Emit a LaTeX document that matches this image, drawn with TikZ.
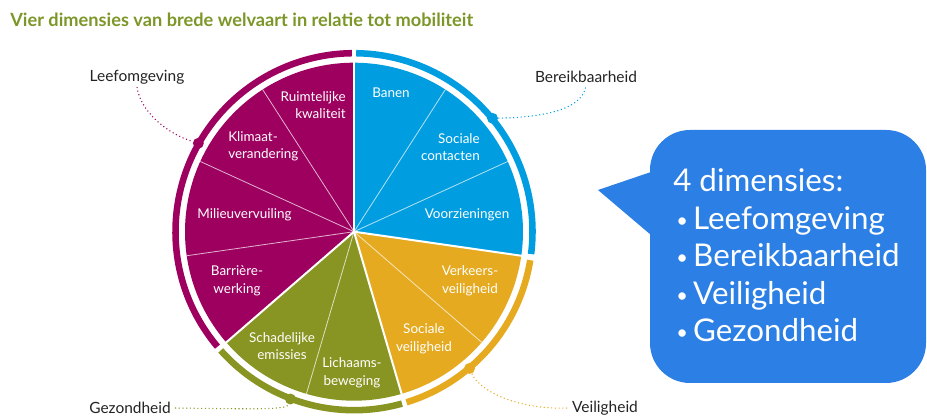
\documentclass[tikz,border=0pt]{standalone}
\usepackage{fontspec}
\setmainfont{Lato}
\definecolor{mag}{RGB}{158,0,96}
\definecolor{sky}{RGB}{0,158,224}
\definecolor{gold}{RGB}{229,170,32}
\definecolor{moss}{RGB}{137,149,34}
\definecolor{ttl}{RGB}{125,150,40}
\definecolor{bub}{RGB}{44,127,228}
\definecolor{lbl}{RGB}{35,35,35}
\newcommand{\smbul}{\raisebox{2.2pt}{\fontsize{15}{15}\selectfont•}\hspace{4pt}}
\begin{document}
\begin{tikzpicture}[x=0.75pt,y=0.75pt,
  seclbl/.style={text=white,font=\fontsize{10.1}{13.1}\selectfont,inner sep=0pt},
  outlbl/.style={text=lbl,font=\fontsize{11.6}{13}\selectfont,inner sep=0pt},
  ringarc/.style={line width=4.9pt},
  bound/.style={white,line width=1.5pt},
  thin/.style={white,opacity=.7,line width=0.6pt},
  ringdot/.style={circle,inner sep=0pt,minimum size=8.2pt},
  conn/.style={dotted,line width=0.8pt},
  bubtxt/.style={text=white,font=\fontsize{23.5}{28}\selectfont,inner sep=0pt,anchor=base west}]
\useasboundingbox (0,0) rectangle (927,416);
% title
\node[anchor=base west,inner sep=0pt,text=ttl,font=\fontsize{13.65}{16}\selectfont\bfseries] (title) at (10,389) {Vier dimensies van brede welvaart in relatie tot mobiliteit};
% pie
\begin{scope}[shift={(354,184.3)}]
  \fill[sky]  (0,0) -- (90:169) arc[start angle=90,end angle=-8.18,radius=169] -- cycle;
  \fill[gold] (0,0) -- (-8.18:169) arc[start angle=-8.18,end angle=-73.64,radius=169] -- cycle;
  \fill[moss] (0,0) -- (-73.64:169) arc[start angle=-73.64,end angle=-139.09,radius=169] -- cycle;
  \fill[mag]  (0,0) -- (220.91:169) arc[start angle=220.91,end angle=90,radius=169] -- cycle;
  \foreach \a in {57.27,24.55,-40.91,-106.36,122.73,155.45,188.18}
    \draw[thin] (0,0) -- (\a:169);
  \foreach \a in {90,-8.18,-73.64,-139.09}
    \draw[bound] (0,0) -- (\a:170);
  \draw[ringarc,sky]  (89.3:178.5) arc[start angle=89.3,end angle=-7.2,radius=178.5];
  \draw[ringarc,gold] (-9.2:178.5) arc[start angle=-9.2,end angle=-72.9,radius=178.5];
  \draw[ringarc,moss] (-74.4:178.5) arc[start angle=-74.4,end angle=-138.3,radius=178.5];
  \draw[ringarc,mag]  (220.1:178.5) arc[start angle=220.1,end angle=90.7,radius=178.5];
  \node[ringdot,fill=mag]  (dL) at (150.4:179) {};
  \node[ringdot,fill=sky]  (dB) at (39.3:179) {};
  \node[ringdot,fill=gold] (dV) at (-49.8:179) {};
  \node[ringdot,fill=moss] (dG) at (-110.8:179) {};
\end{scope}
% sector labels
\node[seclbl,anchor=east,align=right] (s1) at (346,311) {Ruimtelijke\\kwaliteit};
\node[seclbl,anchor=west,align=left] (s2) at (228,269.5) {Klimaat-\\verandering};
\node[seclbl] (s3) at (244.5,201) {Milieuvervuiling};
\node[seclbl,align=center] (s4) at (237,135) {Barrière-\\werking};
\node[seclbl,align=center] (s5) at (282,70) {Schadelijke\\emissies};
\node[seclbl,align=center] (s6) at (352,43) {Lichaams-\\beweging};
\node[seclbl,align=center] (s7) at (424,77) {Sociale\\veiligheid};
\node[seclbl,align=center] (s8) at (470,135) {Verkeers-\\veiligheid};
\node[seclbl] (s9) at (391,323) {Banen};
\node[seclbl,anchor=east,align=right] (s10) at (480,269) {Sociale\\contacten};
\node[seclbl] (s11) at (467,201) {Voorzieningen};
% outer labels
\node[outlbl] (lL) at (137,339) {Leefomgeving};
\node[outlbl] (lB) at (586,339) {Bereikbaarheid};
\node[outlbl] (lG) at (130,8) {Gezondheid};
\node[outlbl] (lV) at (605,8) {Veiligheid};
\draw[conn,mag]  ([yshift=-2pt]lL.south) .. controls (140,306) and (165,283) .. (dL);
\draw[conn,sky]  (dB) .. controls (555,299) and (583,310) .. ([yshift=-2pt]lB.south);
\draw[conn,gold] (dV) .. controls (480,24) and (520,6) .. ([xshift=-3pt]lV.west);
\draw[conn,moss] ([xshift=3pt]lG.east) .. controls (255,7) and (287,6) .. (dG);
% bubble
\fill[bub,rounded corners=30pt] (650,286) rectangle (926,33);
\fill[bub] (651,244) -- (598,226) -- (651,181) -- cycle;
\node[bubtxt] (b0) at (673,224) {4 dimensies:};
\node[bubtxt] (b1) at (676,186) {\smbul Leefomgeving};
\node[bubtxt] (b2) at (676,149) {\smbul Bereikbaarheid};
\node[bubtxt] (b3) at (676,111) {\smbul Veiligheid};
\node[bubtxt] (b4) at (676,74) {\smbul Gezondheid};
\end{tikzpicture}
\end{document}
